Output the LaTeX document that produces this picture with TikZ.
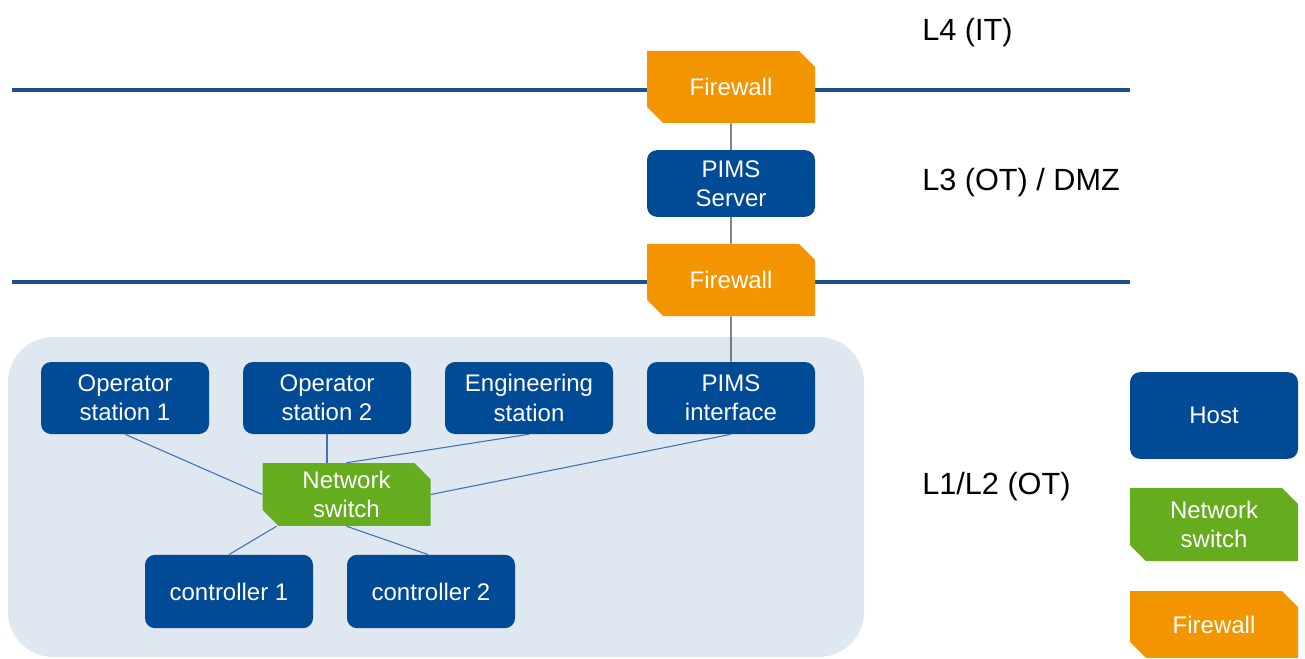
\documentclass[tikz,border=0pt]{standalone}
\usepackage{fontspec}
\setmainfont{Liberation Sans}
\usepackage{tikz}
\usetikzlibrary{calc,positioning,shapes.misc}
\definecolor{hostblue}{HTML}{004A96}
\definecolor{switchgreen}{HTML}{65AC1E}
\definecolor{fworange}{HTML}{F39500}
\definecolor{zoneblue}{HTML}{DFE7F0}
\definecolor{layerline}{HTML}{1F4E8C}
\definecolor{linkblue}{HTML}{3D72B8}
\tikzstyle{host}     = [rectangle, rounded corners=7.5pt, fill=hostblue, text=white, minimum width=126pt, minimum height=54pt, align=center, font=\fontsize{18}{22}\selectfont, inner sep=0pt]
\tikzstyle{netsw}    = [chamfered rectangle, chamfered rectangle corners={north east,south west}, chamfered rectangle xsep=6pt, chamfered rectangle ysep=6pt, fill=switchgreen, text=white, minimum width=126pt, minimum height=47pt, align=center, font=\fontsize{18}{22}\selectfont, inner sep=0pt]
\tikzstyle{fwall}    = [netsw, fill=fworange, minimum height=54pt]
\tikzstyle{layer}    = [anchor=west, inner sep=0pt, font=\fontsize{23}{27}\selectfont]
\tikzstyle{link}     = [linkblue, line width=0.8pt]
\tikzstyle{uplink}   = [black!75, line width=0.8pt]
\tikzstyle{boundary} = [layerline, line width=3pt]

\begin{document}
\begin{tikzpicture}[x=0.75pt,y=-0.75pt]
	\useasboundingbox (0,0) rectangle (1305,659);

	% OT zone
	\fill[zoneblue, rounded corners=34pt] (8,337) rectangle (864,657);

	% layer boundaries
	\draw[boundary] (12,90) -- (1130,90);
	\draw[boundary] (12,282) -- (1130,282);

	\node[layer] (l4) at (922,33) {L4 (IT)};
	\node[layer] (l3) at (922,183) {L3 (OT) / DMZ};
	\node[layer] (l12) at (922,487) {L1/L2 (OT)};

	\node[fwall] (fw1) at (731,87) {Firewall};
	\node[host, minimum height=50pt] (srv) at (731,183.5) {PIMS\\Server};
	\node[fwall] (fw2) at (731,280) {Firewall};

	\node[host] (op1) at (125,398) {Operator\\station 1};
	\node[host] (op2) at (327,398) {Operator\\station 2};
	\node[host] (eng) at (529,398) {Engineering\\station};
	\node[host] (pims) at (731,398) {PIMS\\interface};

	\node[netsw] (sw) at (346.5,494.5) {Network\\switch};

	\node[host, minimum height=55pt] (ctl1) at (229,591.5) {controller 1};
	\node[host, minimum height=55pt] (ctl2) at (431,591.5) {controller 2};

	\draw[uplink] (fw1) -- (srv);
	\draw[uplink] (srv) -- (fw2);
	\draw[uplink] (fw2) -- (pims);

	\draw[link] (op1.south) -- (sw.west);
	\draw[link] (op2.south) -- (op2.south |- sw.north);
	\draw[link] (eng.south) -- (sw.north);
	\draw[link] (pims.south) -- (sw.east);
	\draw[link] ($(sw.south)+(-70,0)$) -- (ctl1.north);
	\draw[link] (sw.south) -- ($(ctl2.north)+(-3,0)$);

	% legend
	\node[host, minimum height=65pt] (lghost) at (1214,415.5) {Host};
	\node[netsw, minimum height=55pt] (lgsw) at (1214,524.5) {Network\\switch};
	\node[fwall, minimum height=50pt] (lgfw) at (1214,624.5) {Firewall};
\end{tikzpicture}
\end{document}
